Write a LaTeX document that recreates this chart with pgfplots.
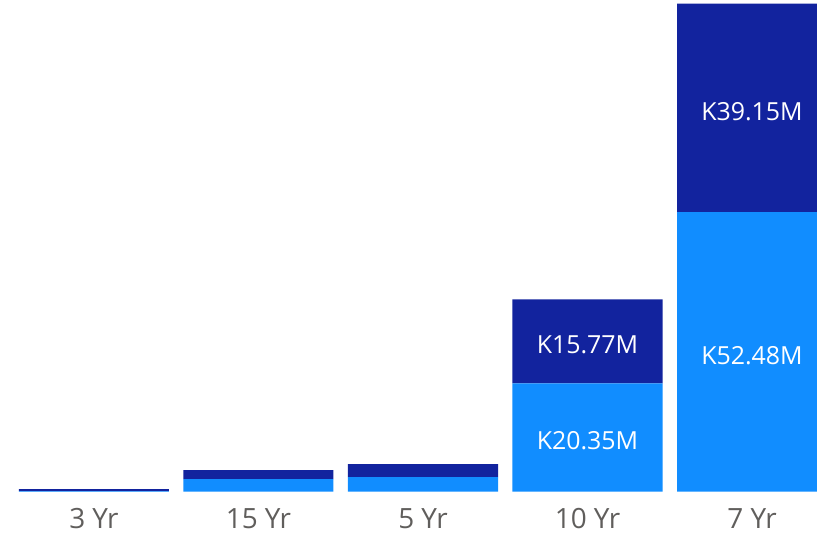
\documentclass[border=0pt]{standalone}
\usepackage{fontspec}
\setmainfont{Open Sans}
\usepackage{pgfplots}
\pgfplotsset{compat=1.18}
\definecolor{darkb}{HTML}{12239E}
\definecolor{lightb}{HTML}{118DFF}
\definecolor{lbl}{HTML}{605E5C}
\tikzset{barlbl/.style={text=white, font=\fontsize{25}{30}\selectfont, anchor=center, yshift=-3.5bp}}
\begin{document}
\begin{tikzpicture}
\begin{axis}[
  at={(0,0)}, anchor=south west,
  scale only axis, width=817bp, height=491.7bp,
  ybar stacked, bar width=0.912,
  xmin=-0.571, xmax=4.395, ymin=0, ymax=92.32,
  axis line style={draw=none},
  major tick length=0pt,
  ytick=\empty,
  xtick={0,1,2,3,4},
  xticklabels={3 Yr,15 Yr,5 Yr,10 Yr,7 Yr},
  xticklabel style={font=\fontsize{28}{33}\selectfont, text=lbl, anchor=center, yshift=-27bp},
  clip=true,
  after end axis/.code={
    \node[barlbl] at (axis cs:3,10.175) {K20.35M};
    \node[barlbl] at (axis cs:3,28.235) {K15.77M};
    \node[barlbl] at (axis cs:4,26.24) {K52.48M};
    \node[barlbl] at (axis cs:4,72.055) {K39.15M};
  },
]
\addplot[fill=lightb, draw=none] coordinates {(0,0.12) (1,2.38) (2,2.76) (3,20.35) (4,52.48)};
\addplot[fill=darkb, draw=none] coordinates {(0,0.36) (1,1.69) (2,2.44) (3,15.77) (4,39.15)};
\end{axis}
\pgfresetboundingbox
\path (0,-42.3bp) rectangle (817bp,491.7bp);
\end{tikzpicture}
\end{document}
